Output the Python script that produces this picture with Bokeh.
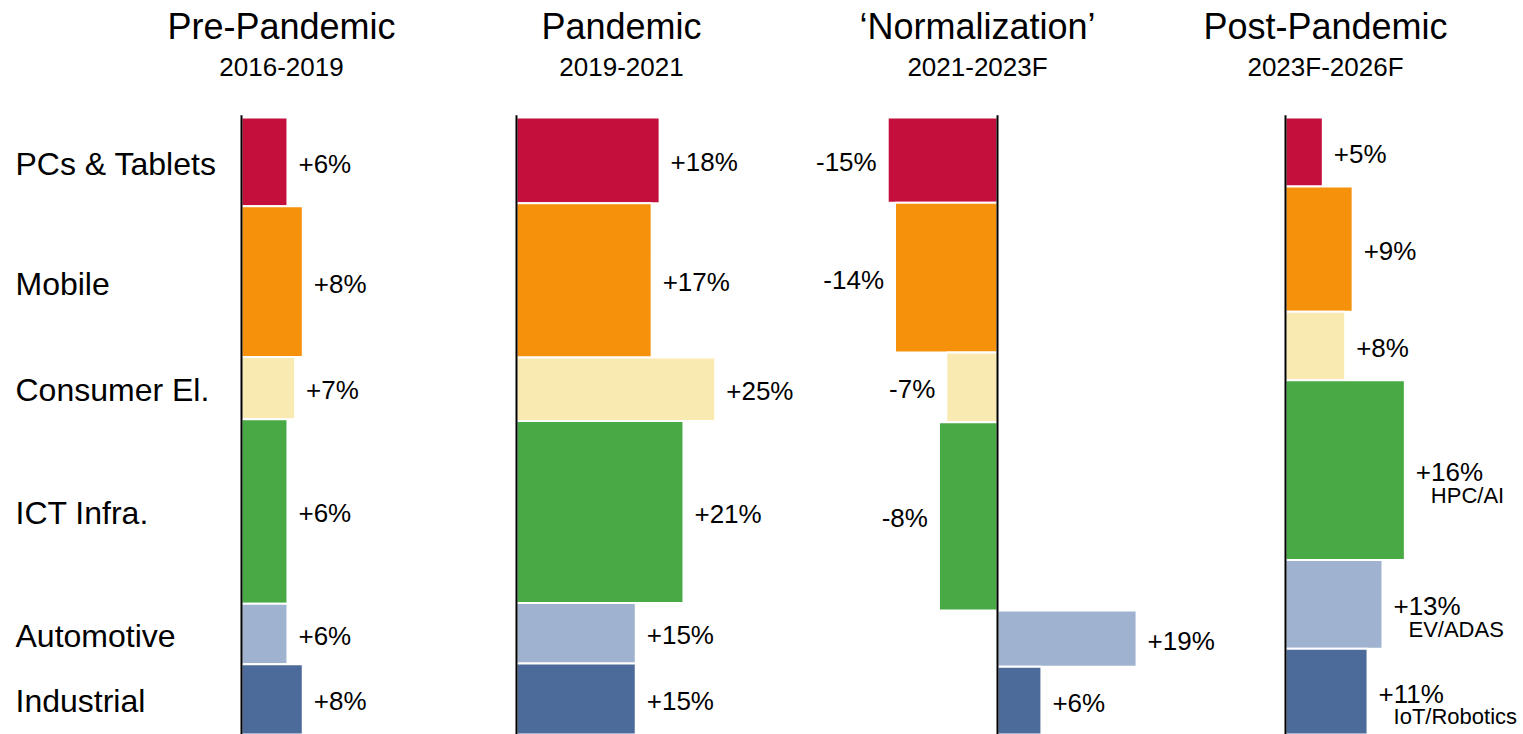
from bokeh.plotting import figure
from bokeh.models import Range1d, ColumnDataSource
from bokeh.core.properties import value
from bokeh.embed import file_html
from bokeh.resources import INLINE

# ---------------- data ----------------
categories = ["PCs & Tablets", "Mobile", "Consumer El.", "ICT Infra.", "Automotive", "Industrial"]
colors = ["#C40E3C", "#F5910A", "#F9EAB2", "#47AA44", "#9FB2CF", "#4C6B9A"]

period_titles = ["Pre-Pandemic", "Pandemic", "\u2018Normalization\u2019", "Post-Pandemic"]
period_years = ["2016-2019", "2019-2021", "2021-2023F", "2023F-2026F"]

# growth (CAGR, %) -> bar length
growth_pre = [6, 8, 7, 6, 6, 8]
growth_pandemic = [18, 17, 25, 21, 15, 15]
growth_norm = [-15, -14, -7, -8, 19, 6]
growth_post = [5, 9, 8, 16, 13, 11]

# share of demand (%) -> bar thickness
share_pre = [14.4, 24.4, 10.1, 29.9, 9.8, 11.4]
share_pandemic = [13.9, 25.0, 10.3, 29.5, 9.8, 11.5]
share_norm = [13.8, 24.3, 11.3, 30.5, 9.1, 11.0]
share_post = [11.2, 20.3, 11.1, 29.1, 14.4, 13.9]

drivers_post = ["", "", "", "HPC/AI", "EV/ADAS", "IoT/Robotics"]

# ---------------- layout / style ----------------
FONT = value("Liberation Sans")
W, H = 1523, 734
TOP = 117                      # screen px where bars start
PPU_Y = (H - TOP) / 100.0      # px per share unit
Y_TOP = -TOP / PPU_Y

panels = [
    # axis px, px per growth unit, title centre px
    dict(axis=241, scale=7.66, tcx=281),
    dict(axis=516, scale=7.95, tcx=621),
    dict(axis=997, scale=7.32, tcx=977),
    dict(axis=1285, scale=7.46, tcx=1325),
]
growths = [growth_pre, growth_pandemic, growth_norm, growth_post]
shares = [share_pre, share_pandemic, share_norm, share_post]
drivers = [None, None, None, drivers_post]

p = figure(width=W, height=H, x_range=Range1d(0, W), y_range=Range1d(100, Y_TOP),
           output_backend="svg", toolbar_location=None,
           x_axis_location=None, y_axis_location=None,
           min_border=0, outline_line_color=None,
           background_fill_color="white", border_fill_color="white")
p.grid.grid_line_color = None

ranges = {}
for i, cfg in enumerate(panels):
    sc = cfg["scale"]
    ranges["p%d" % i] = Range1d(-cfg["axis"] / sc, (W - cfg["axis"]) / sc)
p.extra_x_ranges = ranges


def draw_panel(i):
    cfg = panels[i]
    rn = "p%d" % i
    g = growths[i]
    s = shares[i]
    sc = cfg["scale"]
    x0 = -cfg["axis"] / sc

    tops, bots, mids = [], [], []
    c = 0.0
    for v in s:
        tops.append(c)
        bots.append(c + v)
        mids.append(c + v / 2.0)
        c += v

    src = ColumnDataSource(dict(
        left=[min(0, v) for v in g], right=[max(0, v) for v in g],
        top=tops, bottom=bots, color=colors))
    p.quad(left="left", right="right", top="top", bottom="bottom", source=src,
           fill_color="color", line_color="white", line_width=2, x_range_name=rn)

    # axis line
    p.segment(x0=[0], y0=[-0.35], x1=[0], y1=[100], line_color="black",
              line_width=2, x_range_name=rn)

    labels = [("+%d%%" % v) if v >= 0 else ("-%d%%" % abs(v)) for v in g]
    pos = [k for k, v in enumerate(g) if v >= 0]
    neg = [k for k, v in enumerate(g) if v < 0]
    if pos:
        p.text(x=[g[k] for k in pos], y=[mids[k] for k in pos], text=[labels[k] for k in pos],
               x_offset=11, y_offset=2, text_align="left", text_baseline="middle",
               text_font=FONT, text_font_size="26px", text_color="black", x_range_name=rn)
    if neg:
        p.text(x=[g[k] for k in neg], y=[mids[k] for k in neg], text=[labels[k] for k in neg],
               x_offset=-11, y_offset=2, text_align="right", text_baseline="middle",
               text_font=FONT, text_font_size="26px", text_color="black", x_range_name=rn)

    if drivers[i] is not None:
        idx = [k for k, t in enumerate(drivers[i]) if t]
        p.text(x=[g[k] for k in idx], y=[mids[k] for k in idx], text=[drivers[i][k] for k in idx],
               x_offset=26, y_offset=25, text_align="left", text_baseline="middle",
               text_font=FONT, text_font_size="22px", text_color="black", x_range_name=rn)

    if i == 0:
        p.text(x=[x0] * len(categories), y=mids, text=categories,
               x_offset=15, y_offset=2, text_align="left", text_baseline="middle",
               text_font=FONT, text_font_size="32px", text_color="black", x_range_name=rn)

    # titles (positioned in px)
    tx = x0 + cfg["tcx"] / sc
    p.text(x=[tx], y=[Y_TOP + 26 / PPU_Y], text=[period_titles[i]],
           text_align="center", text_baseline="middle",
           text_font=FONT, text_font_size="36px", text_color="black", x_range_name=rn)
    p.text(x=[tx], y=[Y_TOP + 66 / PPU_Y], text=[period_years[i]],
           text_align="center", text_baseline="middle",
           text_font=FONT, text_font_size="26px", text_color="black", x_range_name=rn)


for i in range(4):
    draw_panel(i)

open("out.html", "w").write(file_html(p, INLINE))
